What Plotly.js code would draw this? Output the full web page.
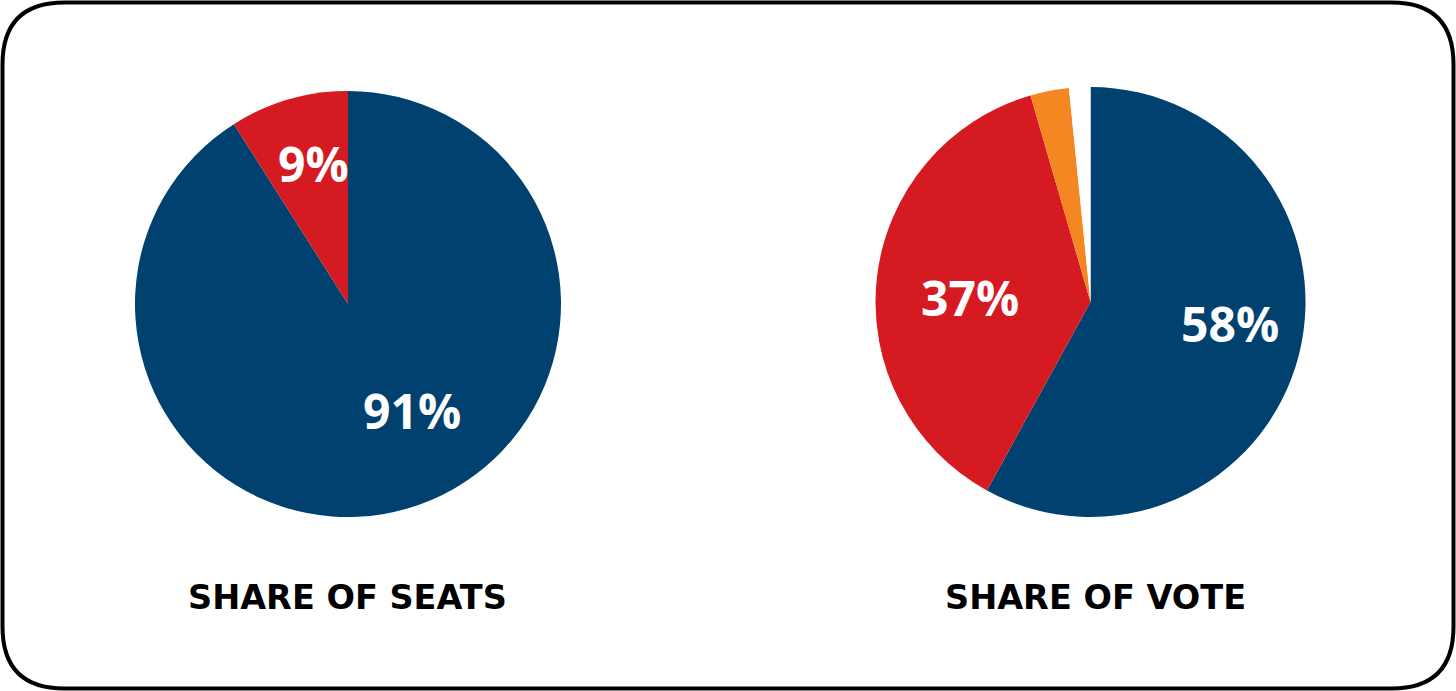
<!DOCTYPE html>
<html>
<head>
<meta charset="utf-8">
<script src="https://cdn.plot.ly/plotly-3.0.1.min.js"></script>
<style>
  html, body { margin: 0; padding: 0; background: #ffffff; }
  #chart { width: 1456px; height: 691px; }
</style>
</head>
<body>
<div id="chart"></div>
<script>
// ---- data ----
const seatParties = ['Party A', 'Party B'];
const seatShares = [91, 9];
const seatLabels = ['91%', '9%'];

const voteParties = ['Party A', 'Party B', 'Party C', 'Others'];
const voteShares = [58, 37.5, 2.9, 1.6];
const voteLabels = ['58%', '37%', '', ''];

const chartTitles = ['SHARE OF SEATS', 'SHARE OF VOTE'];

// ---- styles ----
const BLUE = '#004170';
const RED = '#D61A22';
const ORANGE = '#F58723';
const WHITE = '#FFFFFF';
const W = 1456, H = 691;
const px = x => x / W;
const py = y => 1 - y / H;

// label anchor positions (pixels) for the in-slice percentage labels
const seatLabelPos = [[412, 410], [313, 164]];
const voteLabelPos = [[1230, 324], [970, 297], null, null];

const labelFont = { family: 'Open Sans, sans-serif', size: 48, color: '#ffffff', weight: 700 };
const titleFont = { family: 'DejaVu Sans, sans-serif', size: 33.5, color: '#000000', weight: 700 };

const traces = [
  {
    type: 'pie',
    labels: seatParties,
    values: seatShares,
    textinfo: 'none',
    sort: false,
    direction: 'clockwise',
    rotation: 0,
    marker: { colors: [BLUE, RED], line: { width: 0 } },
    domain: { x: [px(135), px(561)], y: [py(517), py(91)] },
    hoverinfo: 'label+percent',
    showlegend: false
  },
  {
    type: 'pie',
    labels: voteParties,
    values: voteShares,
    textinfo: 'none',
    sort: false,
    direction: 'clockwise',
    rotation: 0,
    marker: { colors: [BLUE, RED, ORANGE, WHITE], line: { width: 0 } },
    domain: { x: [px(875.5), px(1305.5)], y: [py(517), py(87)] },
    hoverinfo: 'label+percent',
    showlegend: false
  }
];

// rounded frame
const x0 = 2.5, y0 = 2.5, x1 = 1453.5, y1 = 688.5, r = 62;
const framePath = [
  `M ${px(x0 + r)},${py(y0)}`,
  `L ${px(x1 - r)},${py(y0)}`,
  `Q ${px(x1)},${py(y0)} ${px(x1)},${py(y0 + r)}`,
  `L ${px(x1)},${py(y1 - r)}`,
  `Q ${px(x1)},${py(y1)} ${px(x1 - r)},${py(y1)}`,
  `L ${px(x0 + r)},${py(y1)}`,
  `Q ${px(x0)},${py(y1)} ${px(x0)},${py(y1 - r)}`,
  `L ${px(x0)},${py(y0 + r)}`,
  `Q ${px(x0)},${py(y0)} ${px(x0 + r)},${py(y0)}`,
  'Z'
].join(' ');

const annotations = [];
function addLabels(labels, positions) {
  labels.forEach((t, i) => {
    if (!t || !positions[i]) return;
    annotations.push({
      text: t,
      xref: 'paper', yref: 'paper',
      x: px(positions[i][0]), y: py(positions[i][1]),
      xanchor: 'center', yanchor: 'middle',
      showarrow: false,
      font: labelFont
    });
  });
}
addLabels(seatLabels, seatLabelPos);
addLabels(voteLabels, voteLabelPos);

const titlePos = [[347, 597], [1095, 597]];
chartTitles.forEach((t, i) => {
  annotations.push({
    text: t,
    xref: 'paper', yref: 'paper',
    x: px(titlePos[i][0]), y: py(titlePos[i][1]),
    xanchor: 'center', yanchor: 'middle',
    showarrow: false,
    font: titleFont
  });
});

const layout = {
  width: W,
  height: H,
  margin: { l: 0, r: 0, t: 0, b: 0 },
  paper_bgcolor: '#ffffff',
  plot_bgcolor: '#ffffff',
  showlegend: false,
  shapes: [{
    type: 'path',
    xref: 'paper', yref: 'paper',
    path: framePath,
    line: { color: '#000000', width: 4 },
    fillcolor: 'rgba(0,0,0,0)'
  }],
  annotations: annotations
};

Plotly.newPlot('chart', traces, layout, { displayModeBar: false, responsive: false });
</script>
</body>
</html>
